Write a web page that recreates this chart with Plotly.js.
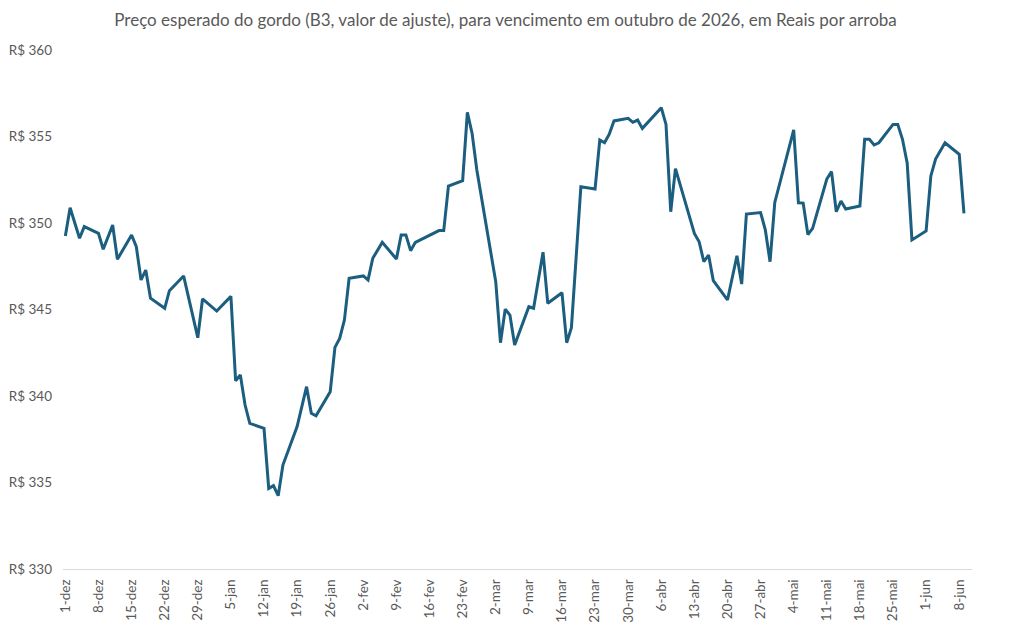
<!DOCTYPE html>
<html>
<head>
<meta charset="utf-8">
<script src="https://cdn.plot.ly/plotly-3.0.1.min.js"></script>
<style>
  html, body { margin: 0; padding: 0; background: #ffffff; }
  #chart { width: 1011px; height: 629px; }
</style>
</head>
<body>
<div id="chart"></div>
<script>
// Data (trading days, B3 settlement price, R$/@)
const dates = [
  '2025-12-01','2025-12-02','2025-12-04','2025-12-05','2025-12-08','2025-12-09','2025-12-11','2025-12-12',
  '2025-12-15','2025-12-16','2025-12-17','2025-12-18','2025-12-19','2025-12-22','2025-12-23','2025-12-26',
  '2025-12-29','2025-12-30','2026-01-02','2026-01-05','2026-01-06','2026-01-07','2026-01-08','2026-01-09',
  '2026-01-12','2026-01-13','2026-01-14','2026-01-15','2026-01-16','2026-01-19','2026-01-21','2026-01-22',
  '2026-01-23','2026-01-26','2026-01-27','2026-01-28','2026-01-29','2026-01-30','2026-02-02','2026-02-03',
  '2026-02-04','2026-02-06','2026-02-09','2026-02-10','2026-02-11','2026-02-12','2026-02-13','2026-02-18',
  '2026-02-19','2026-02-20','2026-02-23','2026-02-24','2026-02-25','2026-02-26','2026-03-02','2026-03-03',
  '2026-03-04','2026-03-05','2026-03-06','2026-03-09','2026-03-10','2026-03-12','2026-03-13','2026-03-16',
  '2026-03-17','2026-03-18','2026-03-20','2026-03-23','2026-03-24','2026-03-25','2026-03-26','2026-03-27',
  '2026-03-30','2026-03-31','2026-04-01','2026-04-02','2026-04-06','2026-04-07','2026-04-08','2026-04-09',
  '2026-04-13','2026-04-14','2026-04-15','2026-04-16','2026-04-17','2026-04-20','2026-04-22','2026-04-23',
  '2026-04-24','2026-04-27','2026-04-28','2026-04-29','2026-04-30','2026-05-04','2026-05-05','2026-05-06',
  '2026-05-07','2026-05-08','2026-05-11','2026-05-12','2026-05-13','2026-05-14','2026-05-15','2026-05-18',
  '2026-05-19','2026-05-20','2026-05-21','2026-05-22','2026-05-25','2026-05-26','2026-05-27','2026-05-28',
  '2026-05-29','2026-06-01','2026-06-02','2026-06-03','2026-06-05','2026-06-08','2026-06-09'
];
const prices = [
  349.25, 350.88, 349.12, 349.79, 349.40, 348.48, 349.88, 347.90,
  349.31, 348.63, 346.71, 347.28, 345.65, 345.07, 346.09, 346.94,
  343.37, 345.61, 344.91, 345.76, 340.88, 341.21, 339.48, 338.42,
  338.13, 334.66, 334.82, 334.24, 336.01, 338.23, 340.54, 339.00,
  338.86, 340.25, 342.81, 343.33, 344.39, 346.80, 346.94, 346.71,
  347.96, 348.88, 347.92, 349.31, 349.31, 348.40, 348.88, 349.56,
  349.56, 352.14, 352.45, 356.40, 355.18, 353.06, 346.61, 343.08,
  345.01, 344.68, 342.95, 345.16, 345.07, 348.31, 345.36, 345.97,
  343.08, 343.95, 352.10, 351.97, 354.80, 354.64, 355.13, 355.90,
  356.05, 355.82, 355.95, 355.47, 356.66, 355.70, 350.65, 353.14,
  349.40, 348.92, 347.76, 348.15, 346.67, 345.55, 348.11, 346.47,
  350.52, 350.60, 349.60, 347.76, 351.19, 355.38, 351.17, 351.15,
  349.33, 349.69, 352.54, 352.97, 350.65, 351.27, 350.81, 350.98,
  354.84, 354.84, 354.51, 354.64, 355.70, 355.70, 354.84, 353.45,
  349.02, 349.54, 352.72, 353.70, 354.64, 353.97, 350.56
];

// Weekly tick positions and labels
const tickDates = [
  '2025-12-01','2025-12-08','2025-12-15','2025-12-22','2025-12-29','2026-01-05','2026-01-12',
  '2026-01-19','2026-01-26','2026-02-02','2026-02-09','2026-02-16','2026-02-23','2026-03-02',
  '2026-03-09','2026-03-16','2026-03-23','2026-03-30','2026-04-06','2026-04-13','2026-04-20',
  '2026-04-27','2026-05-04','2026-05-11','2026-05-18','2026-05-25','2026-06-01','2026-06-08'
];
const tickLabels = [
  '1-dez','8-dez','15-dez','22-dez','29-dez','5-jan','12-jan',
  '19-jan','26-jan','2-fev','9-fev','16-fev','23-fev','2-mar',
  '9-mar','16-mar','23-mar','30-mar','6-abr','13-abr','20-abr',
  '27-abr','4-mai','11-mai','18-mai','25-mai','1-jun','8-jun'
];
const yTicks = [330, 335, 340, 345, 350, 355, 360];

const chartTitle = 'Preço esperado do gordo (B3, valor de ajuste), para vencimento em outubro de 2026, em Reais por arroba';

const FONT = 'Lato, "Noto Sans", sans-serif';
const GRAY = '#595959';

const trace = {
  type: 'scatter',
  mode: 'lines',
  x: dates,
  y: prices,
  line: { color: '#1b5e7f', width: 3, shape: 'linear' },
  hoverinfo: 'skip'
};

const layout = {
  width: 1011,
  height: 629,
  paper_bgcolor: '#ffffff',
  plot_bgcolor: '#ffffff',
  margin: { l: 63, r: 39, t: 50, b: 60 },
  showlegend: false,
  font: { family: FONT, color: GRAY, size: 13.5 },
  title: {
    text: chartTitle,
    font: { family: FONT, size: 17, color: GRAY },
    xref: 'container', x: 0.5, xanchor: 'center',
    yref: 'container', y: 1 - 20 / 629, yanchor: 'middle'
  },
  xaxis: {
    type: 'date',
    range: ['2025-11-30 12:00', '2026-06-10 16:48'],
    tickmode: 'array',
    tickvals: tickDates,
    ticktext: tickLabels,
    tickangle: -90,
    ticks: '',
    showgrid: false,
    zeroline: false,
    showline: true,
    linecolor: '#d9d9d9',
    linewidth: 1,
    tickfont: { family: FONT, size: 13.5, color: GRAY },
    ticklabelstandoff: 4
  },
  yaxis: {
    range: [330, 360],
    tickmode: 'array',
    tickvals: yTicks,
    ticktext: yTicks.map(v => 'R$ ' + v),
    ticks: '',
    showgrid: false,
    zeroline: false,
    showline: false,
    tickfont: { family: FONT, size: 13.5, color: GRAY },
    ticklabelstandoff: 10
  }
};

Plotly.newPlot('chart', [trace], layout, { staticPlot: true, displayModeBar: false });
</script>
</body>
</html>
